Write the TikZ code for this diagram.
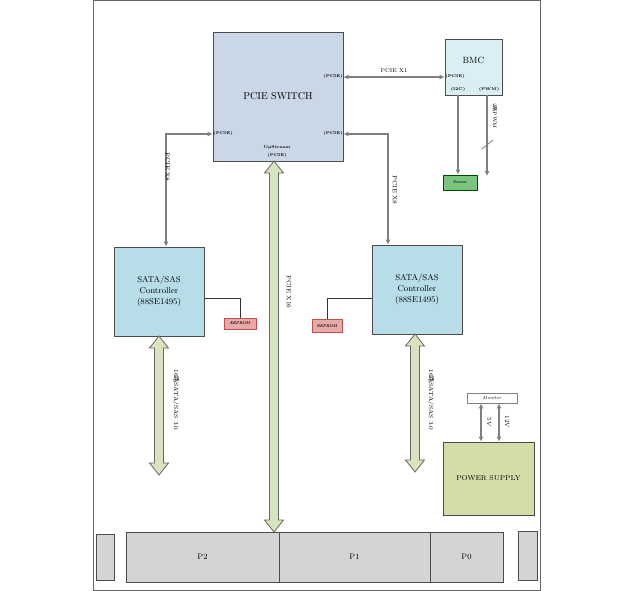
\documentclass[tikz,border=0pt]{standalone}
\usepackage{fontspec}
\newfontfamily\cjk{Noto Sans CJK SC}
\usepackage{xcolor}
\usetikzlibrary{positioning, arrows.meta}

\definecolor{switchblue}{HTML}{C9D7E6}
\definecolor{satablue}{HTML}{B7DDE8}
\definecolor{bmcblue}{HTML}{DBEEF3}
\definecolor{eepred}{HTML}{E8A9A9}
\definecolor{eepborder}{HTML}{C0504D}
\definecolor{sensgreen}{HTML}{7CC57F}
\definecolor{fatgreen}{HTML}{D7E4BD}
\definecolor{psolive}{HTML}{D6DCA8}
\definecolor{slotgray}{HTML}{D4D4D4}
\definecolor{wiregray}{HTML}{7F7F7F}

\tikzset{
    box/.style={draw=black!70, line width=0.8pt, inner sep=1pt, align=center},
    tinylabel/.style={inner sep=0pt, font=\fontsize{4}{5}\selectfont\bfseries},
    sidelabel/.style={inner sep=0pt, rotate=-90, font=\fontsize{6}{7}\selectfont},
    conn/.style={draw=wiregray, line width=1.2pt, -{Latex[length=5pt,width=5pt]}},
    dblconn/.style={draw=wiregray, line width=1.2pt, {Latex[length=5pt,width=5pt]}-{Latex[length=5pt,width=5pt]}},
    wire/.style={draw=black!80, line width=0.6pt},
    fatarrow/.style={draw=black!60, line width=0.8pt, fill=fatgreen, line join=miter},
}

% fat double arrow: x, top y, bottom y
\newcommand{\fatarrow}[3]{%
    \draw[fatarrow] (#1,#2) -- ({#1+9.5},{#2+12}) -- ({#1+4.5},{#2+12}) -- ({#1+4.5},{#3-12})
        -- ({#1+9.5},{#3-12}) -- (#1,#3) -- ({#1-9.5},{#3-12}) -- ({#1-4.5},{#3-12})
        -- ({#1-4.5},{#2+12}) -- ({#1-9.5},{#2+12}) -- cycle;}

\begin{document}
\begin{tikzpicture}[x=1pt, y=-1pt]
    \useasboundingbox (0,0) rectangle (642,591);
    % outer frame
    \draw[black!60, line width=1pt] (93,1) rectangle (540,590);

    % main chips
    \node[box, fill=switchblue, minimum width=130pt, minimum height=129pt, font=\fontsize{10}{12}\selectfont] (switch) at (278,96.5) {PCIE SWITCH};
    \node[box, fill=bmcblue, minimum width=57pt, minimum height=56pt] (bmc) at (473.5,67) {};
    \node[inner sep=0pt, font=\fontsize{9}{10}\selectfont] (bmctext) at (473.5,60) {BMC};
    \node[box, fill=satablue, minimum width=90pt, minimum height=89pt, font=\fontsize{8.5}{11}\selectfont] (satal) at (159,291.5) {SATA/SAS\\Controller\\(88SE1495)};
    \node[box, fill=satablue, minimum width=90pt, minimum height=89pt, font=\fontsize{8.5}{11}\selectfont] (satar) at (417,289.5) {SATA/SAS\\Controller\\(88SE1495)};

    % small parts
    \node[box, draw=eepborder, fill=eepred, minimum width=32pt, minimum height=11pt, font=\fontsize{4}{5}\selectfont\bfseries\itshape] (eepl) at (240,323.5) {EEPROM};
    \node[box, draw=eepborder, fill=eepred, minimum width=30pt, minimum height=13pt, font=\fontsize{4}{5}\selectfont\bfseries\itshape] (eepr) at (327,326) {EEPROM};
    \node[box, draw=black!70!green, fill=sensgreen, minimum width=34pt, minimum height=15pt, font=\fontsize{4}{5}\selectfont\bfseries\itshape] (sensor) at (460,182.5) {Sensor};
    \node[box, draw=black!50, fill=white, minimum width=50pt, minimum height=10pt, font=\fontsize{4.5}{5}\selectfont\itshape] (mon) at (492,398) {Monitor};
    \node[box, fill=psolive, minimum width=91pt, minimum height=73pt, font=\fontsize{7}{8}\selectfont] (ps) at (488.5,478.5) {POWER SUPPLY};

    % port labels
    \node[tinylabel] (swpx) at (333,77) {(PCIE)};
    \node[tinylabel] (swpr) at (333,134) {(PCIE)};
    \node[tinylabel] (swpl) at (223,134) {(PCIE)};
    \node[tinylabel] (swup) at (277,147) {UpStream};
    \node[tinylabel] (swupp) at (277,155) {(PCIE)};
    \node[tinylabel] (bmcpcie) at (455,77) {(PCIE)};
    \node[tinylabel] (bmci2c) at (458,90) {(I2C)};
    \node[tinylabel] (bmcpwm) at (489,90) {(PWM)};

    % pcie links
    \draw[dblconn] (switch.east |- swpx) -- (bmc.west |- swpx);
    \node[inner sep=0pt, font=\fontsize{5.5}{6}\selectfont] (x1label) at (394,71) {PCIE X1};
    \draw[dblconn] (switch.west |- swpl) -| ([xshift=7pt]satal.north);
    \node[sidelabel, anchor=north] (x8l) at (170,167) {PCIE X8};
    \draw[dblconn] (switch.east |- swpr) -| ([xshift=-29pt]satar.north);
    \node[sidelabel] (x8r) at (395,190) {PCIE X8};

    % bmc outputs
    \draw[conn] (bmc.south -| bmci2c) -- (sensor.north -| bmci2c);
    \coordinate (pwmend) at (487,176);
    \draw[conn] (bmc.south -| pwmend) -- (pwmend);
    \draw[wiregray, line width=0.8pt] (482,149) -- (493,140);
    \node[sidelabel, font=\fontsize{5}{6}\selectfont] (pwmlabel) at (495,116) {2{\cjk 路}PWM};

    % eeprom wires
    \draw[wire] ([yshift=-6.5pt]satal.east) -| (eepl.north);
    \draw[wire] ([yshift=-8.5pt]satar.west) -| (eepr.north);

    % power
    \draw[dblconn] ([xshift=-7.5pt]ps.north) -- ([xshift=-7.5pt]ps.north |- mon.south);
    \draw[dblconn] ([xshift=10.5pt]ps.north) -- ([xshift=10.5pt]ps.north |- mon.south);
    \node[sidelabel] (v5) at (489,422) {5V};
    \node[sidelabel] (v12) at (507,422) {12V};

    % fat buses
    \fatarrow{159}{336}{475}
    \fatarrow{415}{334}{472}
    \fatarrow{274}{161}{532}
    \node[sidelabel] (satabusl) at (176,400) {16{\cjk 路}SATA/SAS 3.0};
    \node[sidelabel] (satabusr) at (431,400) {16{\cjk 路}SATA/SAS 3.0};
    \node[sidelabel] (x16) at (289,292) {PCIE X16};

    % backplane slots
    \node[box, fill=slotgray, minimum width=153pt, minimum height=50pt, font=\fontsize{8}{9}\selectfont] (p2) at (202.5,557) {P2};
    \node[box, fill=slotgray, minimum width=151pt, minimum height=50pt, font=\fontsize{8}{9}\selectfont] (p1) at (354.5,557) {P1};
    \node[box, fill=slotgray, minimum width=73pt, minimum height=50pt, font=\fontsize{8}{9}\selectfont] (p0) at (466.5,557) {P0};
    \node[box, fill=slotgray, minimum width=18pt, minimum height=46pt] (slotl) at (105,557) {};
    \node[box, fill=slotgray, minimum width=19pt, minimum height=49pt] (slotr) at (527.5,555.5) {};
\end{tikzpicture}
\end{document}
